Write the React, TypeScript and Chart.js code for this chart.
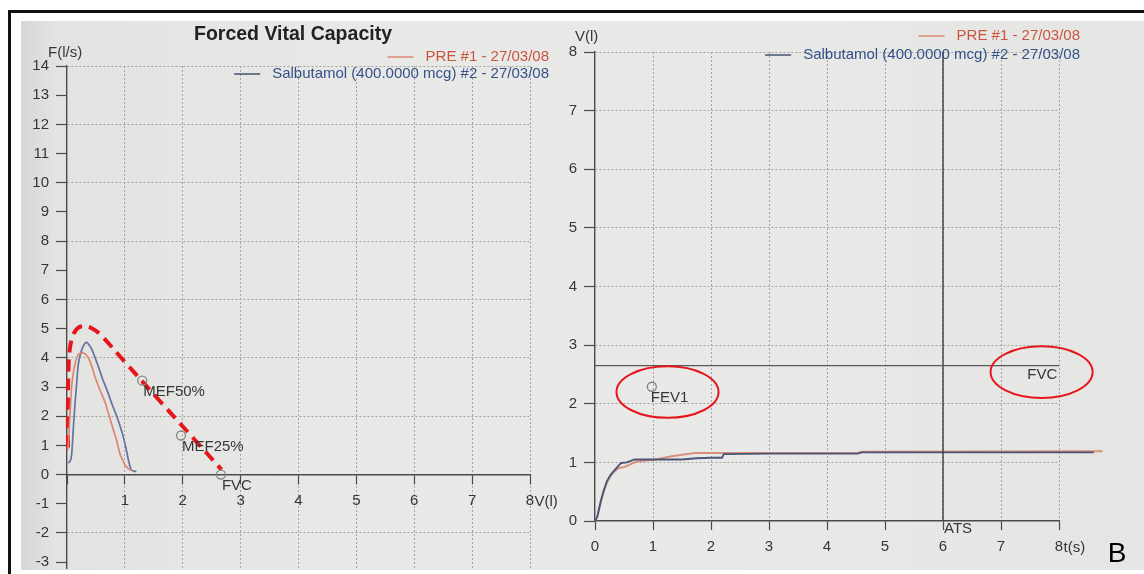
import React, { useEffect, useRef } from 'react';
import { Chart, registerables } from 'chart.js';

Chart.register(...registerables);

const FONT = '"Liberation Sans", Arial, Helvetica, sans-serif';
const TEXT = '#363636';
const AXIS = '#4a4a4a';
const GRID = '#a3a3a3';
const RED_LINE = '#dc8774';
const BLUE_LINE = '#66739f';
const RED_TEXT = '#c9553f';
const BLUE_TEXT = '#34508a';
const ANNOT = '#e5161d';

const TITLE = 'Forced Vital Capacity';
const LEGEND_LABELS = ['PRE #1 - 27/03/08', 'Salbutamol (400.0000 mcg) #2 - 27/03/08'];

// ---------- Flow-volume (left) ----------
const fvTicksX = [0, 1, 2, 3, 4, 5, 6, 7, 8];
const fvTicksY = [-3, -2, -1, 0, 1, 2, 3, 4, 5, 6, 7, 8, 9, 10, 11, 12, 13, 14];

const preFvVolume = [0.0, 0.02, 0.05, 0.08, 0.11, 0.14, 0.19, 0.24, 0.28, 0.33, 0.37, 0.43, 0.48, 0.57, 0.66, 0.73, 0.8, 0.86, 0.91, 0.96, 1.0, 1.05, 1.09, 1.12];
const preFvFlow = [0.8, 0.97, 2.0, 3.0, 3.5, 3.8, 4.1, 4.16, 4.17, 4.1, 4.0, 3.7, 3.37, 2.9, 2.46, 2.0, 1.54, 1.15, 0.74, 0.5, 0.34, 0.22, 0.17, 0.15];

const salFvVolume = [0.02, 0.05, 0.08, 0.11, 0.14, 0.17, 0.19, 0.23, 0.28, 0.34, 0.38, 0.43, 0.54, 0.62, 0.71, 0.78, 0.86, 0.92, 0.97, 1.02, 1.06, 1.11, 1.16, 1.2];
const salFvFlow = [0.4, 0.45, 0.68, 1.6, 2.47, 3.2, 3.7, 4.1, 4.4, 4.53, 4.45, 4.28, 3.71, 3.25, 2.8, 2.4, 2.0, 1.65, 1.31, 0.9, 0.51, 0.17, 0.12, 0.11];

const fvMarkerNames = ['MEF50%', 'MEF25%', 'FVC'];
const fvMarkerVolume = [1.3, 1.97, 2.66];
const fvMarkerFlow = [3.22, 1.34, 0];

// red dashed hand-drawn highlight
const fvHighlightVolume = [0.017, 0.017, 0.03, 0.06, 0.12, 0.2, 0.3, 0.42, 0.57, 1.0, 1.6, 2.2, 2.67];
const fvHighlightFlow = [0.93, 2.6, 3.85, 4.45, 4.85, 5.04, 5.09, 5.02, 4.81, 3.86, 2.53, 1.21, 0.17];

// ---------- Volume-time (right) ----------
const vtTicksX = [0, 1, 2, 3, 4, 5, 6, 7, 8];
const vtTicksY = [0, 1, 2, 3, 4, 5, 6, 7, 8];

const preVtTime = [0, 0.04, 0.1, 0.15, 0.21, 0.27, 0.33, 0.4, 0.5, 0.6, 0.7, 0.85, 1.0, 1.15, 1.3, 1.5, 1.72, 2.5, 3.5, 4.53, 4.6, 8.75];
const preVtVolume = [0, 0.07, 0.32, 0.5, 0.66, 0.77, 0.84, 0.9, 0.92, 0.96, 1.01, 1.03, 1.04, 1.07, 1.1, 1.13, 1.16, 1.16, 1.16, 1.16, 1.18, 1.19];

const salVtTime = [0, 0.04, 0.1, 0.15, 0.21, 0.27, 0.33, 0.45, 0.55, 0.68, 0.85, 1.0, 1.3, 1.5, 1.75, 2.0, 2.19, 2.22, 3.0, 4.53, 4.6, 8.6];
const salVtVolume = [0, 0.08, 0.34, 0.52, 0.69, 0.79, 0.86, 0.99, 1.0, 1.05, 1.05, 1.05, 1.05, 1.05, 1.07, 1.08, 1.08, 1.14, 1.15, 1.15, 1.17, 1.17];

const fvcVolume = 2.65;
const atsTime = 6;
const fev1Time = 0.98;
const fev1Volume = 2.29;
const fvcLabelPos = [7.97, 2.5];
// highlight ellipses: centre t, centre V, radius t, radius V
const ellipseCentreT = [1.25, 7.7];
const ellipseCentreV = [2.2, 2.54];
const ellipseRadiusT = [0.88, 0.88];
const ellipseRadiusV = [0.44, 0.44];

const zip = (xs: number[], ys: number[]) => xs.map((x, i) => ({ x, y: ys[i] }));

function drawLegend(ctx: CanvasRenderingContext2D, rightX: number, y1: number, y2: number) {
  ctx.font = `15px ${FONT}`;
  ctx.textAlign = 'right';
  ctx.textBaseline = 'middle';
  const rows: [string, string, string, number][] = [
    [LEGEND_LABELS[0], RED_TEXT, RED_LINE, y1],
    [LEGEND_LABELS[1], BLUE_TEXT, '#44506f', y2],
  ];
  rows.forEach(([label, tc, lc, y]) => {
    const w = ctx.measureText(label).width;
    ctx.fillStyle = tc;
    ctx.fillText(label, rightX, y);
    const lineEnd = rightX - w - 12;
    ctx.strokeStyle = lc;
    ctx.lineWidth = 1.5;
    ctx.beginPath();
    ctx.moveTo(lineEnd - 26, y);
    ctx.lineTo(lineEnd, y);
    ctx.stroke();
  });
}

const leftOverlay = {
  id: 'leftOverlay',
  afterDraw(chart: any) {
    const { ctx } = chart;
    const x = chart.scales.x;
    const y = chart.scales.y;
    ctx.save();
    ctx.fillStyle = '#222';
    ctx.font = `bold 19.5px ${FONT}`;
    ctx.textAlign = 'center';
    ctx.textBaseline = 'middle';
    ctx.fillText(TITLE, 271, 13);

    ctx.font = `15px ${FONT}`;
    ctx.fillStyle = TEXT;
    ctx.textAlign = 'left';
    ctx.fillText('F(l/s)', x.getPixelForValue(0) - 19, y.getPixelForValue(14) - 13);
    ctx.fillText('V(l)', x.getPixelForValue(8) + 4.5, y.getPixelForValue(0) + 27);

    fvMarkerNames.forEach((name, i) => {
      ctx.fillText(name, x.getPixelForValue(fvMarkerVolume[i]) + 1, y.getPixelForValue(fvMarkerFlow[i]) + 11);
    });

    drawLegend(ctx, 527, 35, 52);
    ctx.restore();
  },
};

const rightOverlay = {
  id: 'rightOverlay',
  afterDraw(chart: any) {
    const { ctx } = chart;
    const x = chart.scales.x;
    const y = chart.scales.y;
    ctx.save();
    ctx.font = `15px ${FONT}`;
    ctx.fillStyle = TEXT;
    ctx.textAlign = 'left';
    ctx.textBaseline = 'middle';
    ctx.fillText('V(l)', x.getPixelForValue(0) - 20, y.getPixelForValue(8) - 15);
    ctx.fillText('t(s)', x.getPixelForValue(8) + 4.5, y.getPixelForValue(0) + 27);
    ctx.fillText('ATS', x.getPixelForValue(atsTime) + 1, y.getPixelForValue(0) + 8);
    ctx.fillText('FEV1', x.getPixelForValue(fev1Time) - 1, y.getPixelForValue(fev1Volume) + 11);
    ctx.textAlign = 'right';
    ctx.fillText('FVC', x.getPixelForValue(fvcLabelPos[0]), y.getPixelForValue(fvcLabelPos[1]));

    ctx.strokeStyle = ANNOT;
    ctx.lineWidth = 2;
    ellipseCentreT.forEach((t, i) => {
      const cx = x.getPixelForValue(t);
      const cy = y.getPixelForValue(ellipseCentreV[i]);
      const rx = Math.abs(x.getPixelForValue(t + ellipseRadiusT[i]) - cx);
      const ry = Math.abs(y.getPixelForValue(ellipseCentreV[i] + ellipseRadiusV[i]) - cy);
      ctx.beginPath();
      ctx.ellipse(cx, cy, rx, ry, 0, 0, Math.PI * 2);
      ctx.stroke();
    });

    drawLegend(ctx, 520, 14, 33);

    ctx.fillStyle = '#000';
    ctx.font = `28px ${FONT}`;
    ctx.textAlign = 'center';
    ctx.fillText('B', 557, 532);
    ctx.restore();
  },
};

function gridColor(everyOther: boolean) {
  return (c: any) => {
    const v = c.tick ? c.tick.value : 0;
    if (v === 0) return 'transparent';
    if (everyOther && Math.abs(v) % 2 !== 0) return 'transparent';
    return GRID;
  };
}

const tickFont = { family: FONT, size: 15 };

export default function App() {
  const leftRef = useRef<HTMLCanvasElement>(null);
  const rightRef = useRef<HTMLCanvasElement>(null);

  useEffect(() => {
    Chart.defaults.font.family = FONT;
    Chart.defaults.color = TEXT;

    const left = new Chart(leftRef.current as HTMLCanvasElement, {
      type: 'line',
      data: {
        datasets: [
          { label: LEGEND_LABELS[0], data: zip(preFvVolume, preFvFlow), borderColor: RED_LINE, borderWidth: 1.7, pointRadius: 0, cubicInterpolationMode: 'monotone' } as any,
          { label: LEGEND_LABELS[1], data: zip(salFvVolume, salFvFlow), borderColor: BLUE_LINE, borderWidth: 1.7, pointRadius: 0, cubicInterpolationMode: 'monotone' } as any,
          { label: 'markers', data: zip(fvMarkerVolume, fvMarkerFlow), showLine: false, pointRadius: 4.5, pointBorderWidth: 1.3, pointBorderColor: '#858585', pointBackgroundColor: 'rgba(0,0,0,0)' } as any,
          { label: 'highlight', data: zip(fvHighlightVolume, fvHighlightFlow), borderColor: ANNOT, borderWidth: 4, borderDash: [12, 7], pointRadius: 0, tension: 0.35, clip: false } as any,
        ],
      },
      options: {
        animation: false,
        responsive: false,
        events: [],
        layout: { padding: { left: 0, top: 44, right: 30, bottom: 30 } },
        plugins: { legend: { display: false }, tooltip: { enabled: false }, title: { display: false } },
        scales: {
          x: {
            type: 'linear',
            position: { y: 0 } as any,
            min: 0,
            max: 8,
            afterFit: (s: any) => { s.height = 0; },
            afterBuildTicks: (s: any) => { s.ticks = fvTicksX.map((v) => ({ value: v })); },
            ticks: { stepSize: 1, autoSkip: false, maxRotation: 0, padding: 8, font: tickFont, color: TEXT, callback: (v: any) => (v === 0 ? '' : String(v)) },
            grid: { color: gridColor(false), lineWidth: 1, tickLength: 9, tickColor: AXIS, tickWidth: 1.2 },
            border: { color: AXIS, width: 1.4, dash: [2, 2] },
          },
          y: {
            type: 'linear',
            min: -3.2,
            max: 14,
            afterFit: (s: any) => { s.width = 45; },
            afterBuildTicks: (s: any) => { s.ticks = fvTicksY.map((v) => ({ value: v })); },
            ticks: { stepSize: 1, autoSkip: false, padding: 7, font: tickFont, color: TEXT },
            grid: { color: gridColor(true), lineWidth: 1, tickLength: 11, tickColor: AXIS, tickWidth: 1.2 },
            border: { color: AXIS, width: 1.4, dash: [2, 2] },
          },
        },
      },
      plugins: [leftOverlay],
    });

    const right = new Chart(rightRef.current as HTMLCanvasElement, {
      type: 'line',
      data: {
        datasets: [
          { label: 'FVC', data: zip([0, 8], [fvcVolume, fvcVolume]), borderColor: '#5a5a5a', borderWidth: 1.3, pointRadius: 0 } as any,
          { label: 'ATS', data: zip([atsTime, atsTime], [8, 0]), borderColor: '#3f3f3f', borderWidth: 1.4, pointRadius: 0 } as any,
          { label: LEGEND_LABELS[1], data: zip(salVtTime, salVtVolume), borderColor: '#4a5578', borderWidth: 1.9, pointRadius: 0, clip: false } as any,
          { label: LEGEND_LABELS[0], data: zip(preVtTime, preVtVolume), borderColor: '#d98f7c', borderWidth: 1.9, pointRadius: 0, clip: false } as any,
          { label: 'FEV1', data: zip([fev1Time], [fev1Volume]), showLine: false, pointRadius: 4.5, pointBorderWidth: 1.3, pointBorderColor: '#808080', pointBackgroundColor: 'rgba(0,0,0,0)' } as any,
        ],
      },
      options: {
        animation: false,
        responsive: false,
        events: [],
        layout: { padding: { left: 0, top: 30, right: 85, bottom: 0 } },
        plugins: { legend: { display: false }, tooltip: { enabled: false }, title: { display: false } },
        scales: {
          x: {
            type: 'linear',
            position: 'bottom',
            min: 0,
            max: 8,
            afterFit: (s: any) => { s.height = 49; },
            afterBuildTicks: (s: any) => { s.ticks = vtTicksX.map((v) => ({ value: v })); },
            ticks: { stepSize: 1, autoSkip: false, maxRotation: 0, padding: 8, font: tickFont, color: TEXT },
            grid: { color: gridColor(false), lineWidth: 1, tickLength: 9, tickColor: AXIS, tickWidth: 1.2 },
            border: { color: AXIS, width: 1.4, dash: [2, 2] },
          },
          y: {
            type: 'linear',
            min: 0,
            max: 8,
            afterFit: (s: any) => { s.width = 35; },
            afterBuildTicks: (s: any) => { s.ticks = vtTicksY.map((v) => ({ value: v })); },
            ticks: { stepSize: 1, autoSkip: false, padding: 7, font: tickFont, color: TEXT },
            grid: { color: gridColor(false), lineWidth: 1, tickLength: 11, tickColor: AXIS, tickWidth: 1.2 },
            border: { color: AXIS, width: 1.4, dash: [2, 2] },
          },
        },
      },
      plugins: [rightOverlay],
    });

    return () => {
      left.destroy();
      right.destroy();
    };
  }, []);

  return (
    <div style={{ position: 'fixed', left: 0, top: 0, width: 1144, height: 574, background: '#fff', overflow: 'hidden' }}>
      <div style={{ position: 'absolute', left: 8, top: 10, width: 1160, height: 620, border: '3px solid #111', boxSizing: 'border-box' }} />
      <div
        style={{
          position: 'absolute', left: 21, top: 21, width: 1123, height: 549,
          background: 'linear-gradient(90deg, #d6d7d4 0%, #e3e4e1 3%, #e8e9e6 30%, #e9eae7 60%, #e5e6e3 100%)',
        }}
      />
      <canvas ref={leftRef} width={538} height={576} style={{ position: 'absolute', left: 22, top: 22, width: 538, height: 576 }} />
      <canvas ref={rightRef} width={584} height={548} style={{ position: 'absolute', left: 560, top: 22, width: 584, height: 548 }} />
    </div>
  );
}
